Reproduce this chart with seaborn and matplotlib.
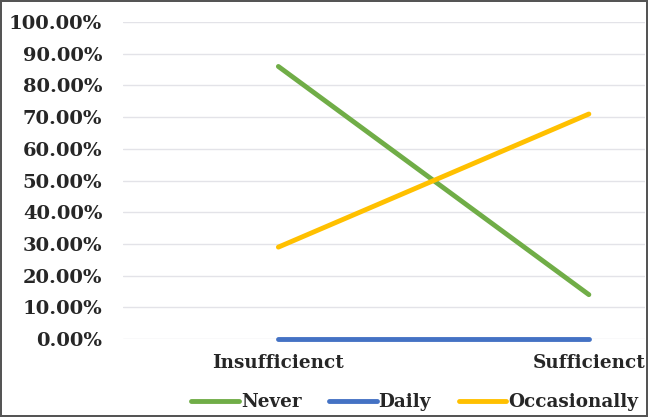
import numpy as np
import pandas as pd
import matplotlib
matplotlib.use("Agg")
import matplotlib.pyplot as plt
import seaborn as sns
from matplotlib.ticker import PercentFormatter

# data
categories = ["Insufficienct", "Sufficienct"]
never = [86, 14]
daily = [0, 0]
occasionally = [29, 71]

df = pd.DataFrame({
    "cat": categories * 3,
    "pos": [0, 1] * 3,
    "value": never + daily + occasionally,
    "series": ["Never"] * 2 + ["Daily"] * 2 + ["Occasionally"] * 2,
})

sns.set_style("white")
plt.rcParams["font.family"] = ["DejaVu Serif"]
plt.rcParams["font.weight"] = "bold"

fig, ax = plt.subplots(figsize=(6.48, 4.17), dpi=100)
fig.subplots_adjust(left=0.19, right=0.995, top=0.947, bottom=0.187)

colors = {"Never": "#70AD47", "Daily": "#4472C4", "Occasionally": "#FFC000"}
sns.lineplot(data=df, x="pos", y="value", hue="series", palette=colors,
             linewidth=3.5, ax=ax, legend=True, solid_capstyle="round")
for ln in ax.get_lines():
    ln.set_clip_on(False)

ax.set_xlim(-0.5, 1.18)
ax.set_ylim(0, 100)
ax.set_yticks(np.arange(0, 101, 10))
ax.yaxis.set_major_formatter(PercentFormatter(decimals=2))
ax.set_xticks([0, 1])
ax.set_xticklabels(categories)
ax.tick_params(axis="x", labelsize=13.2, length=0, pad=11)
ax.tick_params(axis="y", labelsize=14, length=0, pad=15)
for lab in ax.get_xticklabels() + ax.get_yticklabels():
    lab.set_fontweight("bold")
ax.grid(axis="y", color="#E3E3E8", linewidth=1)
ax.set_axisbelow(True)
for s in ax.spines.values():
    s.set_visible(False)
ax.set_xlabel("")
ax.set_ylabel("")

leg = ax.legend(loc="upper center", bbox_to_anchor=(0.559, -0.13), ncol=3,
                frameon=False, fontsize=13.2, handlelength=2.6,
                handletextpad=0.1, columnspacing=1.5, borderpad=0.2)
for t in leg.get_texts():
    t.set_fontweight("bold")
for h in leg.get_lines():
    h.set_linewidth(3.5)

fig.patch.set_edgecolor("#555555")
fig.patch.set_linewidth(1.5)
fig.savefig("out.png", dpi=100, edgecolor=fig.get_edgecolor())
